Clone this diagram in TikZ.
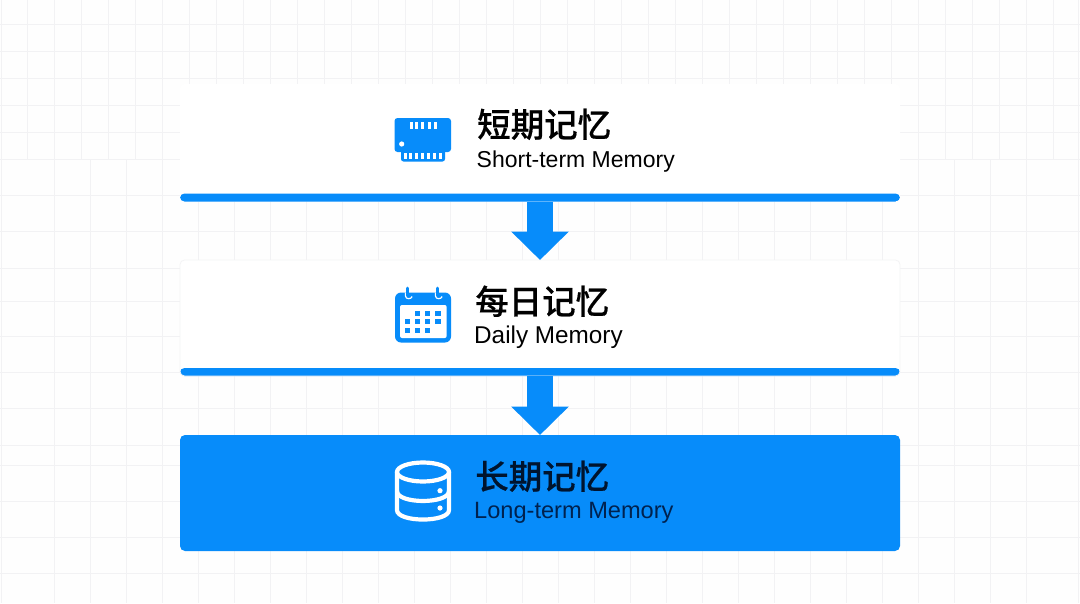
\documentclass[tikz,border=0pt]{standalone}
\usepackage{fontspec}
\usetikzlibrary{arrows.meta}
\setmainfont{Liberation Sans}
\newfontfamily\cjk[FakeBold=0.5]{Noto Sans CJK SC Medium}
\definecolor{brand}{HTML}{078CFA}
\definecolor{gridc}{HTML}{F2F2F4}
\definecolor{paperc}{HTML}{FEFEFE}
\definecolor{panelc}{HTML}{FFFFFF}
\definecolor{edgec}{HTML}{F3F4F5}
\definecolor{inkdeep}{HTML}{00142E}
\definecolor{inksub}{HTML}{00224F}
\tikzset{
  gridline/.style={draw=gridc,line width=1pt},
  panelbase/.style={anchor=north west,minimum width=720pt,inner sep=0pt,outer sep=0pt,rounded corners=5pt},
  barpanel/.style={panelbase,rounded corners=4.5pt,fill=panelc,path picture={
    \fill[brand] ([yshift=8pt]path picture bounding box.south west) rectangle (path picture bounding box.south east);}},
  bluepanel/.style={panelbase,fill=brand},
  flow/.style={draw=brand,line width=26pt,-{Triangle[width=56pt,length=28.5pt,fill=brand]}},
  titletext/.style={anchor=base west,inner sep=0pt,font=\cjk\fontsize{33.5}{40}\selectfont},
  subtext/.style={anchor=base west,inner sep=0pt},
}
\begin{document}
\begin{tikzpicture}[x=1pt,y=-1pt]
\useasboundingbox (0,0) rectangle (1080,603);
\fill[paperc] (0,0) rectangle (1080,603);
% background grid: upper part
\foreach \gx in {27,54,...,1053} \draw[gridline] (\gx,0) -- (\gx,159);
\foreach \gy in {24,51,78,105,132,159} \draw[gridline] (0,\gy) -- (1080,\gy);
% background grid: lower part
\foreach \gx in {54,90,...,1026} \draw[gridline] (\gx,159) -- (\gx,603);
\foreach \gy in {195,231.5,268,301,336,372.5,408.5,445,465,501,537,573} \draw[gridline] (0,\gy) -- (1080,\gy);
\draw[gridline] (1,0) -- (1,603);
\draw[gridline] (1078,0) -- (1078,603);
% panels
\node[barpanel,minimum height=117.5pt] (p1) at (180,84) {};
\node[barpanel,minimum height=116pt,draw=edgec,line width=.8pt] (p2) at (180,260) {};
\node[bluepanel,minimum height=116pt] (p3) at (180,435) {};
% connectors
\draw[flow] (p1.south) -- (p2.north);
\draw[flow] (p2.south) -- (p3.north);
% texts
\node[titletext,text=black] (t1) at (477,137) {短期记忆};
\node[subtext,text=black,font=\fontsize{23}{28}\selectfont] (s1) at (476.5,167) {Short-term Memory};
\node[titletext,text=black] (t2) at (475,314) {每日记忆};
\node[subtext,text=black,font=\fontsize{24.3}{28}\selectfont] (s2) at (474,343.5) {Daily Memory};
\node[titletext,text=inkdeep] (t3) at (475,489) {长期记忆};
\node[subtext,text=inksub,font=\fontsize{23.6}{28}\selectfont] (s3) at (474,518.5) {Long-term Memory};
% RAM icon
\fill[brand,rounded corners=3pt] (394.5,118) rectangle (451,152);
\fill[brand,rounded corners=2.5pt] (401,145) rectangle (445,161.5);
\foreach \px in {411,416.8,422.8,429,435} \fill[white] (\px-1.5,122.3) rectangle (\px+1.5,129);
\foreach \px in {405,410.7,416.7,422.7,428.4,434,440} \fill[white] (\px-1.5,153) rectangle (\px+1.5,158.5);
\fill[white] (401.7,144) circle[radius=2.6pt];
% calendar icon
\fill[brand,rounded corners=6pt] (395,292.5) rectangle (451,342.5);
\fill[white,rounded corners=2pt] (400,305) rectangle (446.7,338);
\foreach \rx in {407.7,437.7}{
  \draw[white,line width=1.2pt] (\rx-2.2,292.5) -- (\rx-2.2,296) .. controls (\rx-2.2,299.5) and (\rx+3.5,299.5) .. (\rx+4.5,296.5);
  \draw[brand,line width=3pt,line cap=round] (\rx,288) -- (\rx,295);
}
\foreach \cx/\cy in {417.7/313.3,427.7/313.3,438/313.3,407.7/321.7,417.7/321.7,427.7/321.7,438/321.7,407.7/330.7,417.7/330.7,427.7/330.7}
  \fill[brand] (\cx-2.7,\cy-2.7) rectangle (\cx+2.7,\cy+2.7);
% database icon
\draw[white,line width=4.2pt] (423,472) ellipse[x radius=26pt,y radius=9.5pt];
\draw[white,line width=4.2pt,line cap=round] (397,472) -- (397,510) .. controls (397,522.7) and (449,522.7) .. (449,510) -- (449,472);
\draw[white,line width=4.2pt] (397,491) .. controls (397,504.3) and (449,504.3) .. (449,491);
\fill[white] (440,490.7) circle[radius=2.6pt];
\fill[white] (440,508) circle[radius=2.6pt];
\end{tikzpicture}
\end{document}
